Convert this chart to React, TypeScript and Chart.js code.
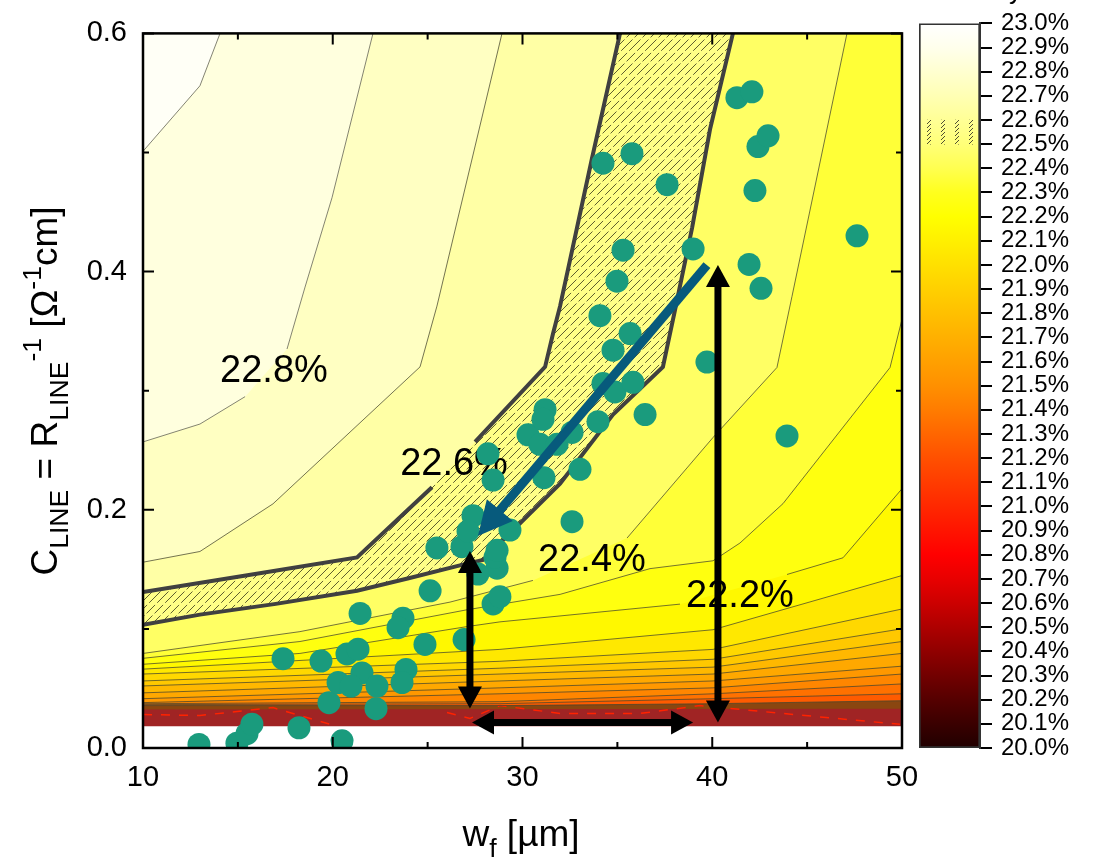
import React, { useEffect, useRef } from "react";
import { Chart, registerables } from "chart.js";

Chart.register(...registerables);

const FONT = "'Liberation Sans', Arial, Helvetica, sans-serif";

// ---------- axes ----------
const X_RANGE = [10, 50];
const Y_RANGE = [0, 0.6];
const xMajorTicks = [10, 20, 30, 40, 50];
const xMinorTicks = [15, 25, 35, 45];
const yMajorTicks = [0, 0.2, 0.4, 0.6];
const yMinorTicks = [0.1, 0.3, 0.5];
const FIELD_BOTTOM = 0.0182; // lowest C_LINE of the simulated field

// ---------- measured cells (w_f [µm], C_LINE [1/(Ohm cm)]) ----------
const fingerWidth = [
  12.95, 14.95, 15.48, 15.74, 18.22, 20.49, 19.8, 22.28, 17.38, 19.38,
  20.75, 21.33, 20.28, 21.54, 20.96, 22.33, 23.86, 23.65, 21.44, 23.7,
  23.44, 25.13, 24.86, 26.92, 28.45, 28.81, 28.66, 28.55, 27.65, 25.49,
  26.81, 27.39, 28.18, 28.45, 27.13, 29.34, 28.66, 30.29, 30.92, 31.19,
  31.08, 31.82, 32.61, 31.13, 33.03, 32.61, 34.08, 35.67, 34.77, 34.24,
  34.87, 35.82, 36.46, 33.98, 39.72, 43.94, 34.98, 35.3, 34.24, 35.77,
  37.62, 38.99, 41.3, 42.09, 42.41, 42.94, 42.25, 47.63, 41.94, 42.57,
];
const lineConductance = [
  0.003, 0.004, 0.012, 0.02, 0.017, 0.006, 0.038, 0.033, 0.075, 0.073,
  0.079, 0.083, 0.055, 0.063, 0.052, 0.052, 0.066, 0.055, 0.113, 0.109,
  0.101, 0.132, 0.087, 0.091, 0.121, 0.127, 0.151, 0.16, 0.146, 0.168,
  0.169, 0.195, 0.247, 0.225, 0.182, 0.183, 0.166, 0.263, 0.255, 0.284,
  0.276, 0.255, 0.265, 0.227, 0.234, 0.19, 0.363, 0.348, 0.334, 0.306,
  0.299, 0.307, 0.28, 0.274, 0.324, 0.262, 0.392, 0.418, 0.491, 0.499,
  0.473, 0.419, 0.546, 0.551, 0.505, 0.514, 0.468, 0.43, 0.406, 0.386,
];

// ---------- iso-efficiency contour lines ([w_f, C]) ----------
type P = [number, number];
const c229: P[][] = [[[10, 0.501], [13.0, 0.556], [14.06, 0.6]]];
const c228: P[][] = [
  [[10, 0.257], [13.0, 0.272], [15.38, 0.295]],
  [[17.59, 0.335], [18.54, 0.387], [19.96, 0.462], [22.12, 0.6]],
];
const c227: P[][] = [[[10, 0.156], [13.0, 0.165], [16.85, 0.205], [24.6, 0.32], [25.49, 0.371], [28.92, 0.6]]];
const c226: P[][] = [
  [[10, 0.131], [15.5, 0.145], [21.28, 0.16], [25.23, 0.219]],
  [[27.5, 0.257], [31.19, 0.32], [31.61, 0.348], [31.98, 0.371], [33.66, 0.495], [35.14, 0.6]],
];
const c225: P[][] = [[
  [10, 0.1035], [13, 0.112], [17, 0.121], [21.28, 0.132], [24, 0.1425], [26.86, 0.154],
  [27.92, 0.158], [31.98, 0.222], [34.77, 0.28], [37.4, 0.32], [38.04, 0.368],
  [38.94, 0.437], [39.89, 0.52], [41.09, 0.6],
]];
const c224: P[][] = [
  [[10, 0.0794], [18.27, 0.0977], [26.18, 0.1225], [30.55, 0.1407]],
  [[35.51, 0.1763], [40.04, 0.2607], [43.41, 0.3195], [44.2, 0.379], [47.1, 0.6]],
];
const c223: P[][] = [[
  [10, 0.0753], [18.27, 0.0894], [27.02, 0.1159], [31.98, 0.129], [36.72, 0.1506],
  [40.04, 0.1572], [41.46, 0.1721], [43.73, 0.2052], [49.37, 0.3195], [50, 0.36],
]];
const c222: P[][] = [
  [[10, 0.0703], [18.27, 0.0794], [27.02, 0.1018], [28.81, 0.1059], [38.3, 0.1208]],
  [[43.94, 0.1457], [46.89, 0.1597], [50, 0.2177]],
];
const c221: P[][] = [[[10, 0.0662], [28.81, 0.0828], [40.04, 0.0993], [50, 0.1448]]];
const c220: P[][] = [[[10, 0.0621], [28.81, 0.0728], [40.04, 0.0828], [50, 0.1167]]];
const c219: P[][] = [[[10, 0.0563], [28.81, 0.067], [40.04, 0.0745], [50, 0.1001]]];
const c218: P[][] = [[[10, 0.0521], [28.81, 0.0621], [40.04, 0.0679], [50, 0.0894]]];
const c217: P[][] = [[[10, 0.0463], [28.81, 0.0563], [40.04, 0.0621], [50, 0.0794]]];
const c216: P[][] = [[[10, 0.0414], [28.81, 0.0505], [40.04, 0.0563], [50, 0.0687]]];
const c215: P[][] = [[[10, 0.0381], [28.81, 0.0455], [40.04, 0.0505], [50, 0.0621]]];
const c214: P[][] = [[[10, 0.0372], [28.81, 0.0389], [40.04, 0.0455], [50, 0.0538]]];
const c213: P[][] = [[[10, 0.0364], [28.81, 0.0372], [40.04, 0.0414], [50, 0.0455]]];
const c212: P[][] = [[[10, 0.0356], [28.81, 0.0356], [40.04, 0.0372], [50, 0.0397]]];
const c211: P[][] = [[[10, 0.0323], [50, 0.033]]];

const contourLevels = [22.9, 22.8, 22.7, 22.6, 22.5, 22.4, 22.3, 22.2, 22.1, 22.0, 21.9, 21.8, 21.7, 21.6, 21.5, 21.4, 21.3, 21.2, 21.1];
const contourLines = [c229, c228, c227, c226, c225, c224, c223, c222, c221, c220, c219, c218, c217, c216, c215, c214, c213, c212, c211];
const thickLevels = [22.6, 22.5];
const hatchedLevel = 22.5;

// thin red streaks in the low-C region
const streakA: P[] = [[10, 0.0281], [13, 0.0273], [16.85, 0.0339], [19.86, 0.0199]];
const streakB: P[] = [[26.02, 0.0298], [27.23, 0.0248], [28.81, 0.0356], [31.98, 0.029], [36.19, 0.029], [39.35, 0.0356], [43.73, 0.029], [49.89, 0.0199]];

// ---------- contour labels ----------
const contourLabelText = ["22.8%", "22.6%", "22.4%", "22.2%"];
const contourLabelW = [16.9, 26.39, 33.66, 41.46];
const contourLabelC = [0.316, 0.2383, 0.157, 0.1274];

// ---------- arrows ----------
const blueArrowW = [39.72, 27.65];
const blueArrowC = [0.4055, 0.1779];
const blackArrowW = [[27.23, 27.23], [40.3, 40.3], [27.34, 38.99]];
const blackArrowC = [[0.0331, 0.1655], [0.0215, 0.4055], [0.0215, 0.0215]];

// ---------- colour bar ----------
const CB_MIN = 20;
const CB_MAX = 23;
const CB_STEP = 0.1;
const colormap: [number, string][] = [
  [23.0, "#FFFFFF"], [22.9, "#FFFFEC"], [22.8, "#FFFFD0"], [22.7, "#FFFFB4"], [22.6, "#FFFF96"],
  [22.5, "#FFFF78"], [22.4, "#FFFF50"], [22.3, "#FFFF1E"], [22.2, "#FFFF00"], [22.1, "#FFF000"],
  [22.0, "#FFE000"], [21.9, "#FFD000"], [21.8, "#FFC000"], [21.7, "#FFB000"], [21.6, "#FFA000"],
  [21.5, "#FF9000"], [21.4, "#FF7C00"], [21.3, "#FF6600"], [21.2, "#FF5000"], [21.1, "#FF3C00"],
  [21.0, "#FF2800"], [20.9, "#FF1400"], [20.8, "#FF0000"], [20.7, "#E80000"], [20.6, "#CC0000"],
  [20.5, "#AE0000"], [20.4, "#900000"], [20.3, "#720000"], [20.2, "#550000"], [20.1, "#3A0000"],
  [20.0, "#200000"],
];
const BASE_FIELD_COLOR = "#A02424";
const BROWN_BAND_COLOR = "#8A4610";

function hexRgb(h: string) {
  const n = parseInt(h.slice(1), 16);
  return [(n >> 16) & 255, (n >> 8) & 255, n & 255];
}
function colorAt(v: number) {
  for (let i = 0; i < colormap.length - 1; i++) {
    const [v0, c0] = colormap[i];
    const [v1, c1] = colormap[i + 1];
    if (v <= v0 && v >= v1) {
      const t = (v0 - v) / (v0 - v1);
      const a = hexRgb(c0);
      const b = hexRgb(c1);
      return `rgb(${Math.round(a[0] + (b[0] - a[0]) * t)},${Math.round(a[1] + (b[1] - a[1]) * t)},${Math.round(a[2] + (b[2] - a[2]) * t)})`;
    }
  }
  return colormap[colormap.length - 1][1];
}

function regionAbove(segs: P[][]) {
  const pts = [{ x: X_RANGE[0], y: Y_RANGE[1] }];
  segs.forEach((s) => s.forEach(([x, y]) => pts.push({ x, y })));
  pts.push({ x: X_RANGE[1], y: Y_RANGE[1] });
  return pts;
}

function makeHatch(): any {
  const c = document.createElement("canvas");
  c.width = 24;
  c.height = 24;
  const g = c.getContext("2d")!;
  g.strokeStyle = "rgba(45,45,20,0.85)";
  g.lineWidth = 0.9;
  g.setLineDash([12, 3]);
  for (let k = -3; k <= 3; k++) {
    const off = k * 8;
    g.beginPath();
    g.moveTo(off, 24);
    g.lineTo(off + 24, 0);
    g.stroke();
  }
  return g.createPattern(c, "repeat");
}
function makeSmallHatch(): any {
  const c = document.createElement("canvas");
  c.width = 14;
  c.height = 4;
  const g = c.getContext("2d")!;
  g.strokeStyle = "rgba(60,60,40,0.9)";
  g.lineWidth = 1;
  g.beginPath();
  g.moveTo(3, 4);
  g.lineTo(7, 0);
  g.stroke();
  return g.createPattern(c, "repeat");
}

type Run = [string, "n" | "b" | "p"];
function drawRich(ctx: CanvasRenderingContext2D, runs: Run[], size: number, cx: number, cy: number, rotate: boolean) {
  const small = size * 0.72;
  ctx.save();
  ctx.translate(cx, cy);
  if (rotate) ctx.rotate(-Math.PI / 2);
  ctx.fillStyle = "#000";
  ctx.textBaseline = "alphabetic";
  ctx.textAlign = "left";
  const widths = runs.map(([t, k]) => {
    ctx.font = `${k === "n" ? size : small}px ${FONT}`;
    return ctx.measureText(t).width;
  });
  let x = -widths.reduce((a, b) => a + b, 0) / 2;
  runs.forEach(([t, k], i) => {
    ctx.font = `${k === "n" ? size : small}px ${FONT}`;
    const dy = k === "b" ? size * 0.3 : k === "p" ? -size * 0.42 : 0;
    ctx.fillText(t, x, dy);
    x += widths[i];
  });
  ctx.restore();
}

function drawArrow(ctx: CanvasRenderingContext2D, x1: number, y1: number, x2: number, y2: number, shaft: number, headL: number, headW: number, color: string, both: boolean) {
  const dx = x2 - x1;
  const dy = y2 - y1;
  const L = Math.hypot(dx, dy);
  const ux = dx / L;
  const uy = dy / L;
  const nx = -uy;
  const ny = ux;
  const s1 = both ? headL * 0.85 : 0;
  const s2 = headL * 0.85;
  ctx.save();
  ctx.strokeStyle = color;
  ctx.fillStyle = color;
  ctx.lineWidth = shaft;
  ctx.lineCap = "butt";
  ctx.beginPath();
  ctx.moveTo(x1 + ux * s1, y1 + uy * s1);
  ctx.lineTo(x2 - ux * s2, y2 - uy * s2);
  ctx.stroke();
  const head = (tx: number, ty: number, ex: number, ey: number) => {
    ctx.beginPath();
    ctx.moveTo(tx, ty);
    ctx.lineTo(tx - ex * headL + nx * headW / 2, ty - ey * headL + ny * headW / 2);
    ctx.lineTo(tx - ex * headL - nx * headW / 2, ty - ey * headL - ny * headW / 2);
    ctx.closePath();
    ctx.fill();
  };
  head(x2, y2, ux, uy);
  if (both) head(x1, y1, -ux, -uy);
  ctx.restore();
}

const overlayPlugin = {
  id: "overlay",
  beforeDatasetDraw(chart: any, args: any) {
    if (args.index !== 0) return;
    const ctx = chart.ctx;
    const xs = chart.scales.x;
    const ys = chart.scales.y;
    ctx.save();
    ctx.font = `38px ${FONT}`;
    ctx.fillStyle = "#000";
    ctx.textAlign = "center";
    ctx.textBaseline = "middle";
    contourLabelText.forEach((t, i) => {
      ctx.fillText(t, xs.getPixelForValue(contourLabelW[i]), ys.getPixelForValue(contourLabelC[i]));
    });
    ctx.restore();
  },
  afterDatasetsDraw(chart: any) {
    const ctx = chart.ctx;
    const xs = chart.scales.x;
    const ys = chart.scales.y;
    const ca = chart.chartArea;
    drawArrow(ctx, xs.getPixelForValue(blueArrowW[0]), ys.getPixelForValue(blueArrowC[0]),
      xs.getPixelForValue(blueArrowW[1]), ys.getPixelForValue(blueArrowC[1]), 9, 34, 34, "#075A7C", false);
    blackArrowW.forEach((w, i) => {
      drawArrow(ctx, xs.getPixelForValue(w[0]), ys.getPixelForValue(blackArrowC[i][0]),
        xs.getPixelForValue(w[1]), ys.getPixelForValue(blackArrowC[i][1]), 7, 22, 24, "#000", true);
    });
    ctx.save();
    ctx.strokeStyle = "#000";
    ctx.lineWidth = 2.5;
    ctx.strokeRect(ca.left, ca.top, ca.right - ca.left, ca.bottom - ca.top);
    ctx.lineWidth = 2;
    ctx.beginPath();
    const tickX = (v: number, len: number) => {
      const p = xs.getPixelForValue(v);
      ctx.moveTo(p, ca.bottom); ctx.lineTo(p, ca.bottom - len);
      ctx.moveTo(p, ca.top); ctx.lineTo(p, ca.top + len);
    };
    const tickY = (v: number, len: number) => {
      const p = ys.getPixelForValue(v);
      ctx.moveTo(ca.left, p); ctx.lineTo(ca.left + len, p);
      ctx.moveTo(ca.right, p); ctx.lineTo(ca.right - len, p);
    };
    xMajorTicks.forEach((v) => tickX(v, 11));
    xMinorTicks.forEach((v) => tickX(v, 6));
    yMajorTicks.forEach((v) => tickY(v, 11));
    yMinorTicks.forEach((v) => tickY(v, 6));
    ctx.stroke();
    ctx.restore();
  },
  afterDraw(chart: any) {
    const ctx = chart.ctx;
    drawRich(ctx, [["w", "n"], ["f", "b"], [" [µm]", "n"]], 37, 521, 846, false);
    drawRich(ctx, [["C", "n"], ["LINE", "b"], [" = R", "n"], ["LINE", "b"], ["-1", "p"], [" [Ω", "n"], ["-1", "p"], ["cm]", "n"]], 37, 57, 391, true);
  },
};

const cbPlugin = {
  id: "cbTitle",
  afterDraw(chart: any) {
    const ctx = chart.ctx;
    ctx.save();
    ctx.font = `26px ${FONT}`;
    ctx.fillStyle = "#000";
    ctx.textAlign = "left";
    ctx.textBaseline = "alphabetic";
    const t = "Efficiency";
    const w = ctx.measureText(t).width;
    ctx.fillText(t, 1022 - w, -1);
    ctx.restore();
  },
};

export default function App() {
  const mainRef = useRef<HTMLCanvasElement>(null);
  const cbRef = useRef<HTMLCanvasElement>(null);

  useEffect(() => {
    Chart.defaults.font.family = FONT;
    Chart.defaults.color = "#000";
    const hatch = makeHatch();
    const smallHatch = makeSmallHatch();

    const datasets: any[] = [];
    datasets.push({
      type: "scatter",
      data: fingerWidth.map((x, i) => ({ x, y: lineConductance[i] })),
      pointRadius: 11.5,
      pointHoverRadius: 11.5,
      backgroundColor: "#1A9B7D",
      borderWidth: 0,
      clip: 0,
      order: 0,
    });
    contourLevels.forEach((lv, i) => {
      if (lv < 21.15) return;
      const thick = thickLevels.includes(lv);
      const light = lv > 22.75;
      contourLines[i].forEach((seg) => {
        datasets.push({
          type: "line",
          data: seg.map(([x, y]) => ({ x, y })),
          borderColor: thick ? "#404040" : light ? "rgba(110,110,95,0.85)" : "rgba(70,70,45,0.75)",
          borderWidth: thick ? 4 : 1,
          pointRadius: 0,
          fill: false,
          tension: 0,
          order: 10,
        });
      });
    });
    [streakA, streakB].forEach((s) => {
      datasets.push({
        type: "line",
        data: s.map(([x, y]) => ({ x, y })),
        borderColor: "#FF2200",
        borderWidth: 1.5,
        borderDash: [9, 9],
        pointRadius: 0,
        fill: false,
        order: 11,
      });
    });
    contourLevels.forEach((lv, i) => {
      const color = lv < 21.15 ? BROWN_BAND_COLOR : colorAt(lv + 0.05);
      datasets.push({
        type: "line",
        data: regionAbove(contourLines[i]),
        borderColor: "rgba(0,0,0,0)",
        borderWidth: 0,
        backgroundColor: color,
        fill: "shape",
        pointRadius: 0,
        tension: 0,
        order: 100 + i,
      });
      if (Math.abs(lv - hatchedLevel) < 1e-6) {
        datasets.push({
          type: "line",
          data: regionAbove(contourLines[i]),
          borderColor: "rgba(0,0,0,0)",
          borderWidth: 0,
          backgroundColor: hatch,
          fill: "shape",
          pointRadius: 0,
          order: 100 + i - 0.5,
        });
      }
    });
    datasets.push({
      type: "line",
      data: [
        { x: X_RANGE[0], y: Y_RANGE[1] },
        { x: X_RANGE[0], y: FIELD_BOTTOM },
        { x: X_RANGE[1], y: FIELD_BOTTOM },
        { x: X_RANGE[1], y: Y_RANGE[1] },
      ],
      borderColor: "rgba(0,0,0,0)",
      borderWidth: 0,
      backgroundColor: BASE_FIELD_COLOR,
      fill: "shape",
      pointRadius: 0,
      order: 500,
    });

    const main = new Chart(mainRef.current!, {
      type: "scatter",
      data: { datasets },
      options: {
        animation: false,
        responsive: false,
        devicePixelRatio: 1,
        events: [],
        layout: { padding: { left: 0, top: 23, right: 194, bottom: 0 } },
        plugins: { legend: { display: false }, tooltip: { enabled: false } },
        scales: {
          x: {
            type: "linear",
            min: X_RANGE[0],
            max: X_RANGE[1],
            afterFit: (s: any) => { s.height = 110; },
            ticks: { stepSize: 10, font: { size: 29, family: FONT }, color: "#000", padding: 13, maxRotation: 0 },
            grid: { display: false, drawTicks: false },
            border: { display: false },
          },
          y: {
            type: "linear",
            min: Y_RANGE[0],
            max: Y_RANGE[1],
            afterFit: (s: any) => { s.width = 143; },
            ticks: { stepSize: 0.2, font: { size: 29, family: FONT }, color: "#000", padding: 16, callback: (v: any) => Number(v).toFixed(1) },
            grid: { display: false, drawTicks: false },
            border: { display: false },
          },
        },
      } as any,
      plugins: [overlayPlugin],
    });

    const cb = new Chart(cbRef.current!, {
      type: "bar",
      data: {
        labels: ["cb"],
        datasets: [
          {
            data: [[22.5, 22.6]],
            backgroundColor: smallHatch,
            borderWidth: 0,
            barPercentage: 1,
            categoryPercentage: 1,
            grouped: false,
            order: 0,
          } as any,
          {
            data: [[CB_MIN, CB_MAX]],
            backgroundColor: (c: any) => {
              const ch = c.chart;
              const ys = ch.scales && ch.scales.y;
              if (!ys || !ch.chartArea) return "#FFFF00";
              const top = ys.getPixelForValue(CB_MAX);
              const bot = ys.getPixelForValue(CB_MIN);
              if (!isFinite(top) || !isFinite(bot) || bot <= top) return "#FFFF00";
              const g = ch.ctx.createLinearGradient(0, top, 0, bot);
              colormap.forEach(([v, col]) => g.addColorStop((CB_MAX - v) / (CB_MAX - CB_MIN), col));
              return g;
            },
            borderColor: "#333",
            borderWidth: 2,
            borderSkipped: false,
            barPercentage: 1,
            categoryPercentage: 1,
            grouped: false,
            order: 1,
          } as any,
        ],
      },
      options: {
        animation: false,
        responsive: false,
        devicePixelRatio: 1,
        events: [],
        layout: { padding: { left: 919, top: 23, right: 0, bottom: 110 } },
        plugins: { legend: { display: false }, tooltip: { enabled: false } },
        scales: {
          x: { display: false },
          y: {
            position: "right",
            min: CB_MIN,
            max: CB_MAX,
            afterFit: (s: any) => { s.width = 116; },
            ticks: {
              stepSize: CB_STEP,
              autoSkip: false,
              font: { size: 24, family: FONT },
              color: "#000",
              padding: 9,
              callback: (v: any) => Number(v).toFixed(1) + "%",
            },
            grid: { drawOnChartArea: false, drawTicks: true, tickLength: 12, color: "#000", lineWidth: 2, tickWidth: 2 },
            border: { display: true, color: "#333", width: 2 },
          },
        },
      } as any,
      plugins: [cbPlugin],
    });

    return () => {
      main.destroy();
      cb.destroy();
    };
  }, []);

  return (
    <div style={{ position: "fixed", left: 0, top: 0, width: 1096, height: 858, background: "#fff" }}>
      <canvas ref={mainRef} width={1096} height={858} style={{ position: "absolute", left: 0, top: 0 }} />
      <canvas ref={cbRef} width={1096} height={858} style={{ position: "absolute", left: 0, top: 0 }} />
    </div>
  );
}
